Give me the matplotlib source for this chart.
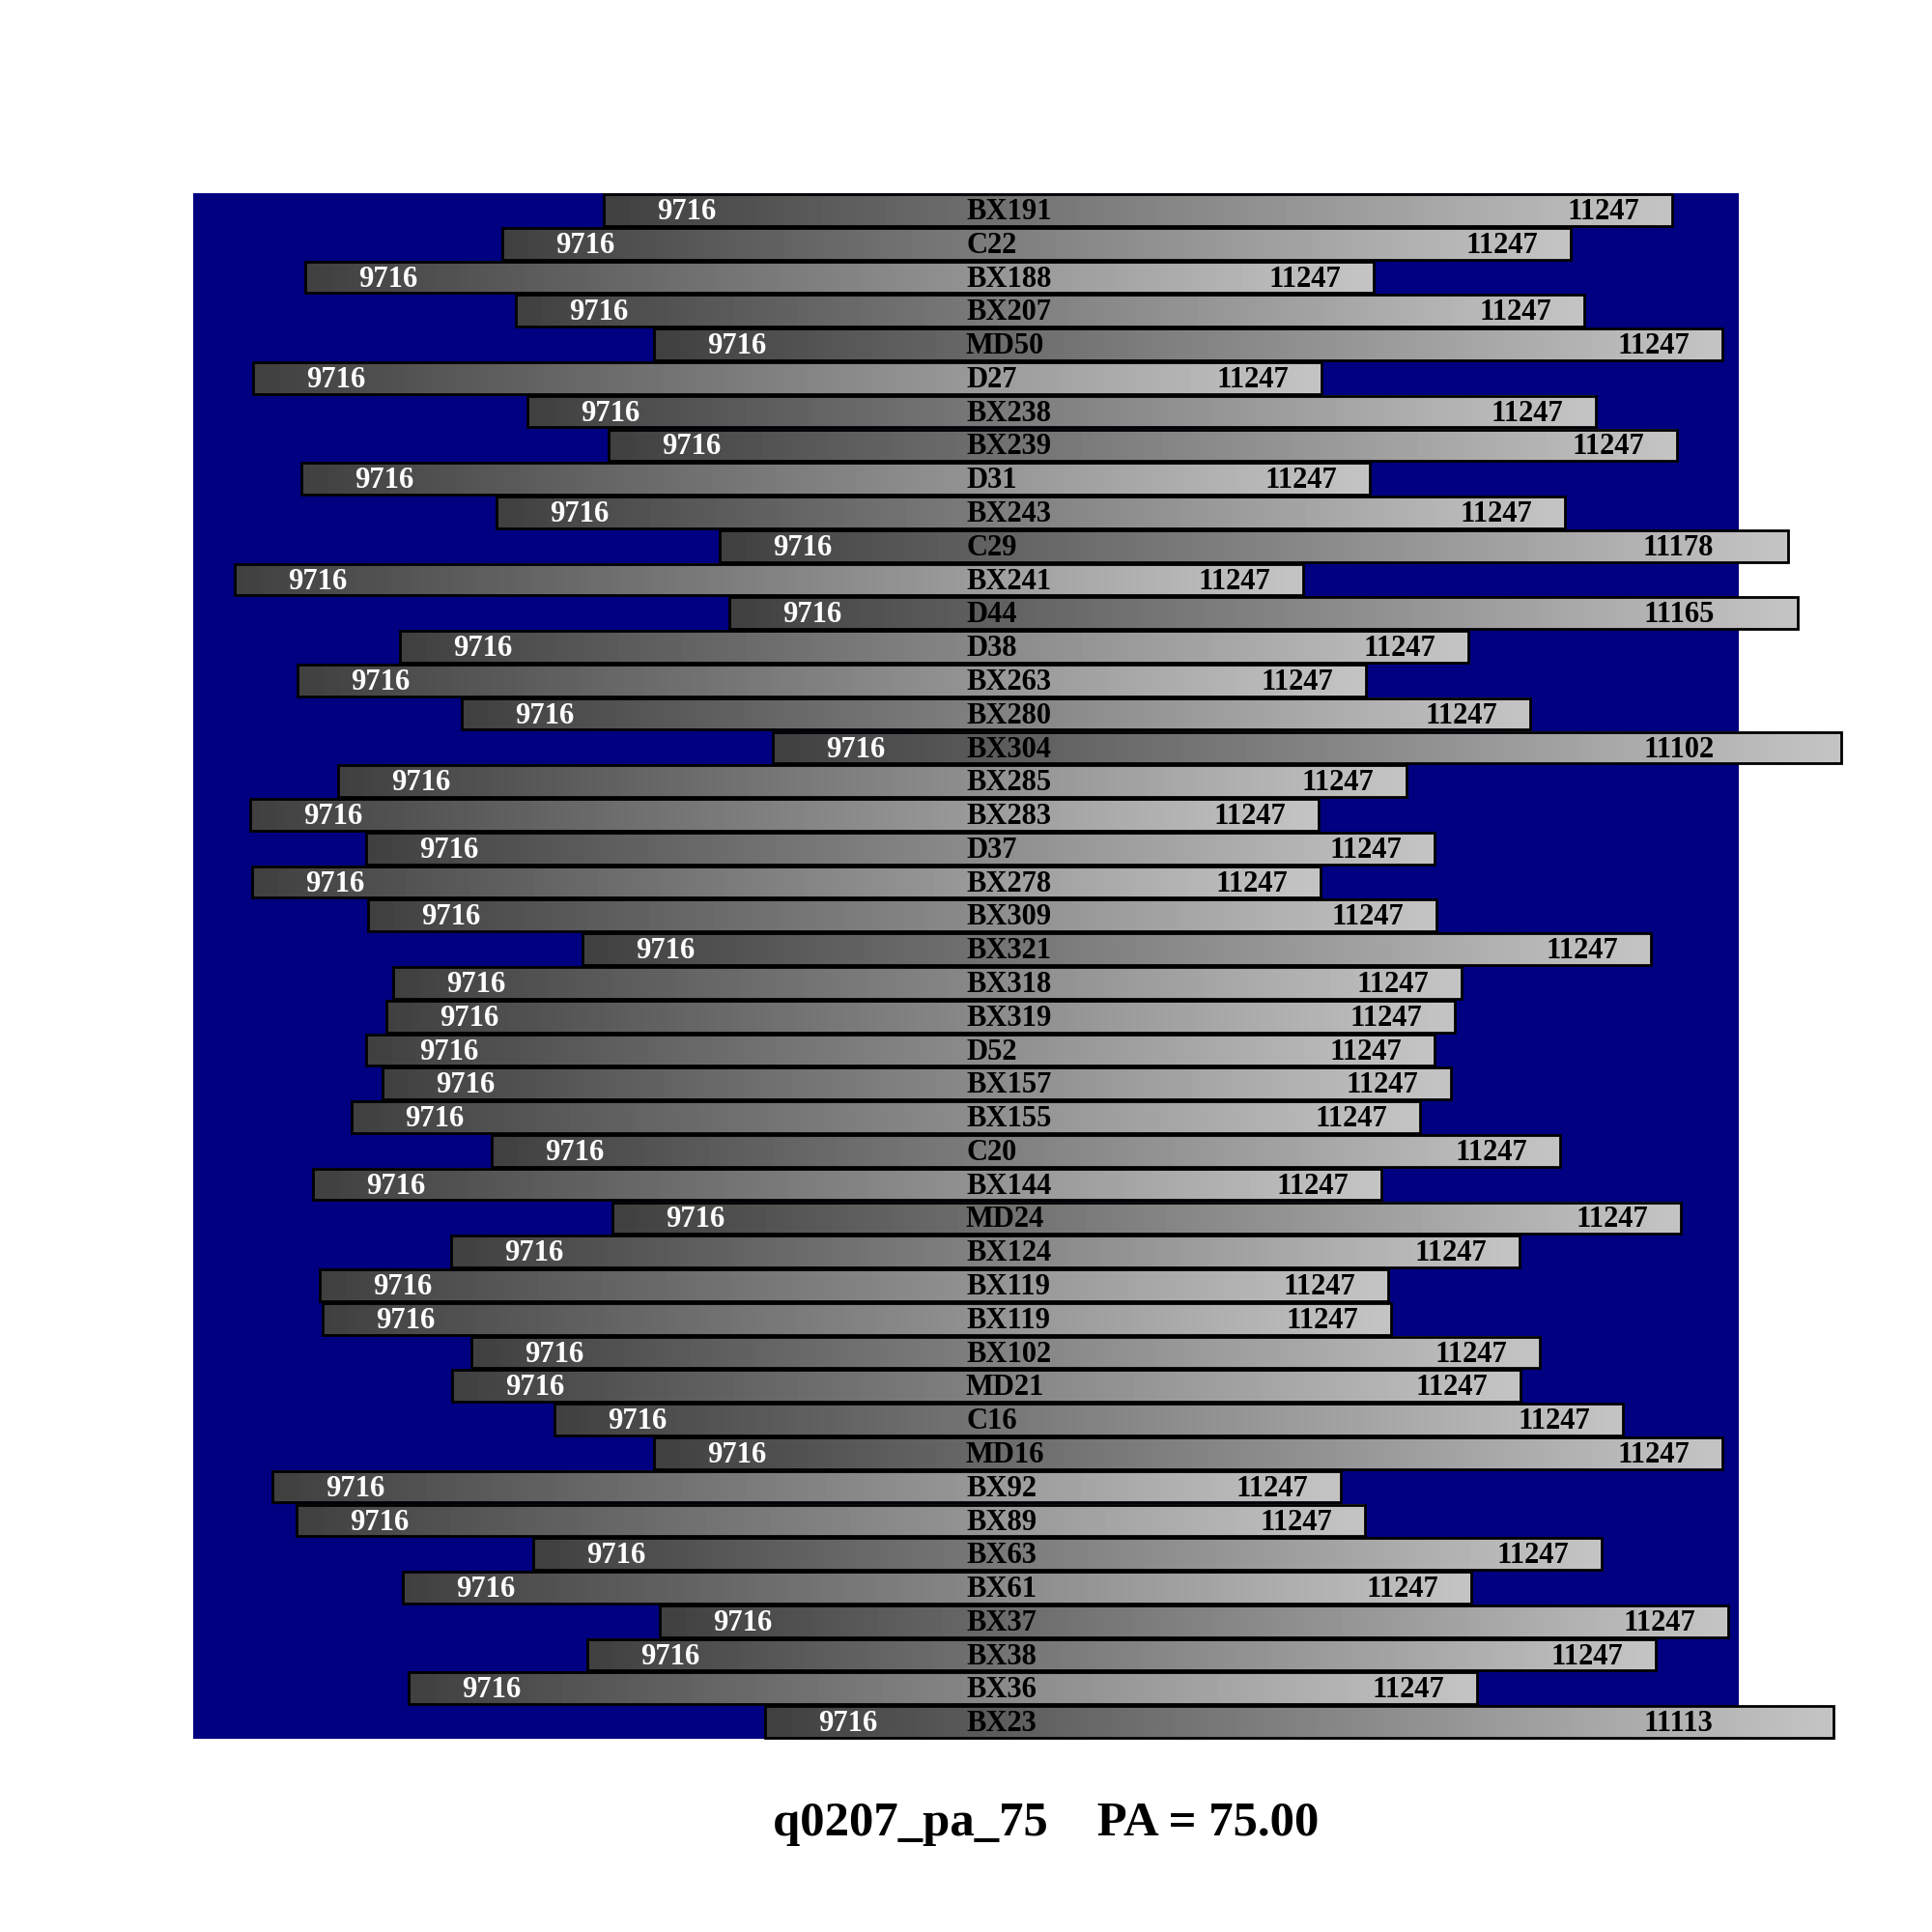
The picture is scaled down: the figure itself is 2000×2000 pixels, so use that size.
import numpy as np
import matplotlib
matplotlib.use("Agg")
import matplotlib.pyplot as plt
from matplotlib.patches import Rectangle

# ---- data ----
slit_names = ["BX191", "C22", "BX188", "BX207", "MD50", "D27", "BX238", "BX239",
              "D31", "BX243", "C29", "BX241", "D44", "D38", "BX263", "BX280",
              "BX304", "BX285", "BX283", "D37", "BX278", "BX309", "BX321", "BX318",
              "BX319", "D52", "BX157", "BX155", "C20", "BX144", "MD24", "BX124",
              "BX119", "BX119", "BX102", "MD21", "C16", "MD16", "BX92", "BX89",
              "BX63", "BX61", "BX37", "BX38", "BX36", "BX23"]
slit_left = [425, 320, 116, 334, 477, 62, 346, 430,
             112, 314, 545, 43, 555, 214, 108, 278,
             600, 150, 59, 179, 61, 181, 403, 207,
             200, 179, 196, 164, 309, 124, 434, 267,
             131, 134, 288, 268, 374, 477, 82, 107,
             352, 217, 483, 408, 223, 592]
wave_start = [9716] * len(slit_names)
wave_end = [11247] * len(slit_names)
wave_end[10] = 11178   # C29
wave_end[12] = 11165   # D44
wave_end[16] = 11102   # BX304
wave_end[45] = 11113   # BX23
title_text = "q0207_pa_75    PA = 75.00"

# ---- layout ----
BAR_W = 1106
LAB_OFF = 55
PX_PER_A = 0.6157
NAME_X = 800
LABEL_XMAX = 1501

fig = plt.figure(figsize=(20, 20), dpi=100)
ax = fig.add_axes([0.1, 0.1, 0.8, 0.8])
ax.set_facecolor("#000080")
for s in ax.spines.values():
    s.set_visible(False)
ax.set_xticks([])
ax.set_yticks([])
n = len(slit_names)

grad = np.linspace(0.25, 0.77, 256).reshape(1, -1)
font = dict(family=["Liberation Serif", "DejaVu Serif"], weight="bold", fontsize=22)
h = 0.94
for i, (name, left, w0, w1) in enumerate(zip(slit_names, slit_left, wave_start, wave_end)):
    y0 = i + (1 - h) / 2
    im = ax.imshow(grad, cmap="gray", vmin=0, vmax=1, aspect="auto",
                   extent=(left, left + BAR_W, y0 + h, y0), zorder=2,
                   interpolation="bilinear")
    im.set_clip_on(False)
    ax.add_patch(Rectangle((left, y0), BAR_W, h, fill=False, edgecolor="black",
                           linewidth=2.0, zorder=3, clip_on=False))
    yc = i + 0.56
    ax.text(left + LAB_OFF, yc, str(w0), color="white", ha="left", va="center",
            zorder=4, clip_on=False, **font)
    xr = min(left + LAB_OFF + (w1 - w0) * PX_PER_A, LABEL_XMAX)
    ax.text(xr, yc, str(w1), color="black",
            ha="left", va="center", zorder=4, clip_on=False, **font)
    ax.text(NAME_X, yc, name, color="black", ha="left", va="center", zorder=4,
            clip_on=False, **font)

ax.set_xlim(0, 1600)
ax.set_ylim(n, 0)

fig.text(0.5415, 0.056, title_text, ha="center", va="center",
         family=["Liberation Serif", "DejaVu Serif"], weight="bold", fontsize=36.5)

fig.savefig("out.png", dpi=100, facecolor="white")
